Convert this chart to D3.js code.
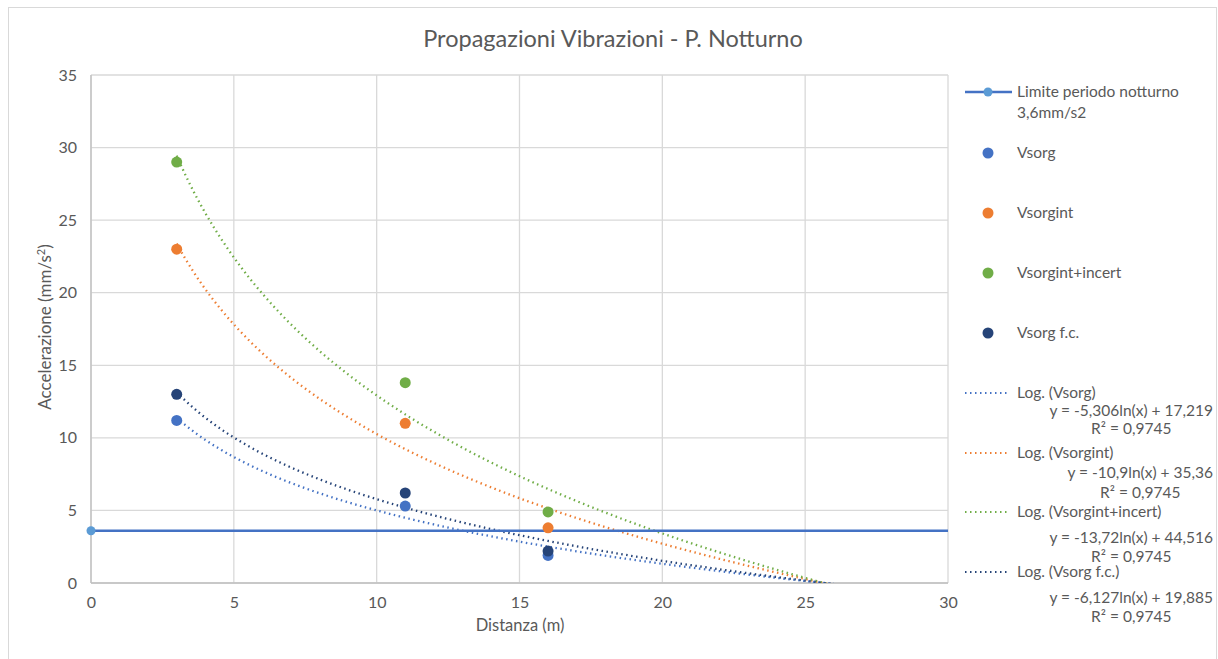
<!DOCTYPE html>
<html lang="it">
<head>
<meta charset="utf-8">
<title>Propagazioni Vibrazioni - P. Notturno</title>
<script src="https://cdn.jsdelivr.net/npm/d3@7"></script>
<style>
  body { margin: 0; background: #fff; }
  text { font-family: Lato, "Open Sans", sans-serif; fill: #595959; }
</style>
</head>
<body>
<div id="chart"></div>
<script>
// data
const distances = [3, 11, 16];
const vsorg      = [11.2, 5.3, 1.9];
const vsorgint   = [23.0, 11.0, 3.8];
const vsorgInc   = [29.0, 13.8, 4.9];
const vsorgFc    = [13.0, 6.2, 2.2];
const limitValue = 3.6;
const xTicks = [0, 5, 10, 15, 20, 25, 30];
const yTicks = [0, 5, 10, 15, 20, 25, 30, 35];

// log trendlines as printed in the legend: y = a ln(x) + b
const trendA = [-5.306, -10.9, -13.72, -6.127];
const trendB = [17.219, 35.36, 44.516, 19.885];
const trendEq = ["y = -5,306ln(x) + 17,219", "y = -10,9ln(x) + 35,36",
                 "y = -13,72ln(x) + 44,516", "y = -6,127ln(x) + 19,885"];
const trendR2 = "R² = 0,9745";

const names  = ["Vsorg", "Vsorgint", "Vsorgint+incert", "Vsorg f.c."];
const colors = ["#4472C4", "#ED7D31", "#70AD47", "#264478"];
const series = [vsorg, vsorgint, vsorgInc, vsorgFc];

const w = 1218, h = 659;
const svg = d3.select("#chart").append("svg").attr("width", w).attr("height", h);

svg.append("rect").attr("x", 8.5).attr("y", 7.5).attr("width", 1208).attr("height", 670)
   .attr("fill", "#fff").attr("stroke", "#d9d9d9");

const x = d3.scaleLinear().domain([0, 30]).range([91, 948]);
const y = d3.scaleLinear().domain([0, 35]).range([583, 75]);

// grid
svg.append("g").selectAll("line").data(xTicks).join("line")
   .attr("x1", d => x(d)).attr("x2", d => x(d)).attr("y1", y(0)).attr("y2", y(35))
   .attr("stroke", "#d9d9d9").attr("stroke-width", 1.3);
svg.append("g").selectAll("line").data(yTicks).join("line")
   .attr("x1", x(0)).attr("x2", x(30)).attr("y1", d => y(d)).attr("y2", d => y(d))
   .attr("stroke", "#d9d9d9").attr("stroke-width", 1.3);
svg.append("line").attr("x1", x(0)).attr("x2", x(0)).attr("y1", y(0)).attr("y2", y(35))
   .attr("stroke", "#bfbfbf").attr("stroke-width", 1.3);
svg.append("line").attr("x1", x(0)).attr("x2", x(30)).attr("y1", y(0)).attr("y2", y(0))
   .attr("stroke", "#bfbfbf").attr("stroke-width", 1.3);

// axes (labels only)
const xAxis = svg.append("g").attr("transform", "translate(0," + y(0) + ")")
   .call(d3.axisBottom(x).tickValues(xTicks).tickSize(0).tickPadding(14));
const yAxis = svg.append("g").attr("transform", "translate(" + x(0) + ",0)")
   .call(d3.axisLeft(y).tickValues(yTicks).tickSize(0).tickPadding(14));
[xAxis, yAxis].forEach(g => {
  g.select(".domain").remove();
  g.selectAll("text").style("font-family", "Lato, 'Open Sans', sans-serif")
   .style("font-size", "16px").attr("fill", "#595959");
});

// titles
svg.append("text").attr("x", 613).attr("y", 47).attr("text-anchor", "middle")
   .style("font-size", "23.5px").text("Propagazioni Vibrazioni - P. Notturno");
svg.append("text").attr("x", 520).attr("y", 631).attr("text-anchor", "middle")
   .style("font-size", "16.5px").text("Distanza (m)");
const yl = svg.append("text").attr("transform", "translate(51,327) rotate(-90)")
   .attr("text-anchor", "middle").style("font-size", "17px");
yl.append("tspan").text("Accelerazione (mm/s");
yl.append("tspan").attr("dy", -6).style("font-size", "11px").text("2");
yl.append("tspan").attr("dy", 6).text(")");

// trendlines
const clip = svg.append("clipPath").attr("id", "plot").append("rect")
   .attr("x", x(0)).attr("y", y(35)).attr("width", x(30) - x(0)).attr("height", y(0) - y(35));
const xs = d3.range(3, 26.01, 0.1);
const line = d3.line().x(d => x(d[0])).y(d => y(d[1]));
trendA.forEach((a, i) => {
  const pts = xs.map(v => [v, a * Math.log(v) + trendB[i]]);
  svg.append("path").datum(pts).attr("d", line).attr("clip-path", "url(#plot)")
     .attr("fill", "none").attr("stroke", colors[i]).attr("stroke-width", 2.3)
     .attr("stroke-dasharray", "1.5 3.5");
});

// limit line
svg.append("line").attr("x1", x(0)).attr("x2", x(30)).attr("y1", y(limitValue)).attr("y2", y(limitValue))
   .attr("stroke", "#4472C4").attr("stroke-width", 2.5);
svg.append("circle").attr("cx", x(0)).attr("cy", y(limitValue)).attr("r", 4.5).attr("fill", "#5B9BD5");

// points
series.forEach((vals, i) => {
  svg.append("g").selectAll("circle").data(vals).join("circle")
     .attr("cx", (d, j) => x(distances[j])).attr("cy", d => y(d)).attr("r", 5.5)
     .attr("fill", colors[i]);
});

// legend
const lg = svg.append("g").style("font-size", "15.5px");
lg.append("line").attr("x1", 965).attr("x2", 1012).attr("y1", 92).attr("y2", 92)
  .attr("stroke", "#4472C4").attr("stroke-width", 2.5);
lg.append("circle").attr("cx", 988).attr("cy", 92).attr("r", 4.5).attr("fill", "#5B9BD5");
lg.append("text").attr("x", 1017).attr("y", 97).text("Limite periodo notturno");
lg.append("text").attr("x", 1017).attr("y", 118).text("3,6mm/s2");

const dotY = [153, 213, 273, 333];
names.forEach((n, i) => {
  lg.append("circle").attr("cx", 988).attr("cy", dotY[i]).attr("r", 5.5).attr("fill", colors[i]);
  lg.append("text").attr("x", 1017).attr("y", dotY[i] + 5).text(n);
});

const logY = [393, 453, 512, 572];
const eqY  = [411, 473, 538, 598];
const r2Y  = [429, 493, 557, 617];
names.forEach((n, i) => {
  lg.append("line").attr("x1", 965).attr("x2", 1008).attr("y1", logY[i]).attr("y2", logY[i])
    .attr("stroke", colors[i]).attr("stroke-width", 2).attr("stroke-dasharray", "1.5 3.5");
  lg.append("text").attr("x", 1017).attr("y", logY[i] + 5).text("Log. (" + n + ")");
  const eq = lg.append("text").attr("x", 1213).attr("y", eqY[i] + 5).attr("text-anchor", "end")
    .text(trendEq[i]);
  const ew = eq.node().getComputedTextLength();
  lg.append("text").attr("x", 1213 - ew / 2).attr("y", r2Y[i] + 5).attr("text-anchor", "middle")
    .text(trendR2);
});
</script>
</body>
</html>
